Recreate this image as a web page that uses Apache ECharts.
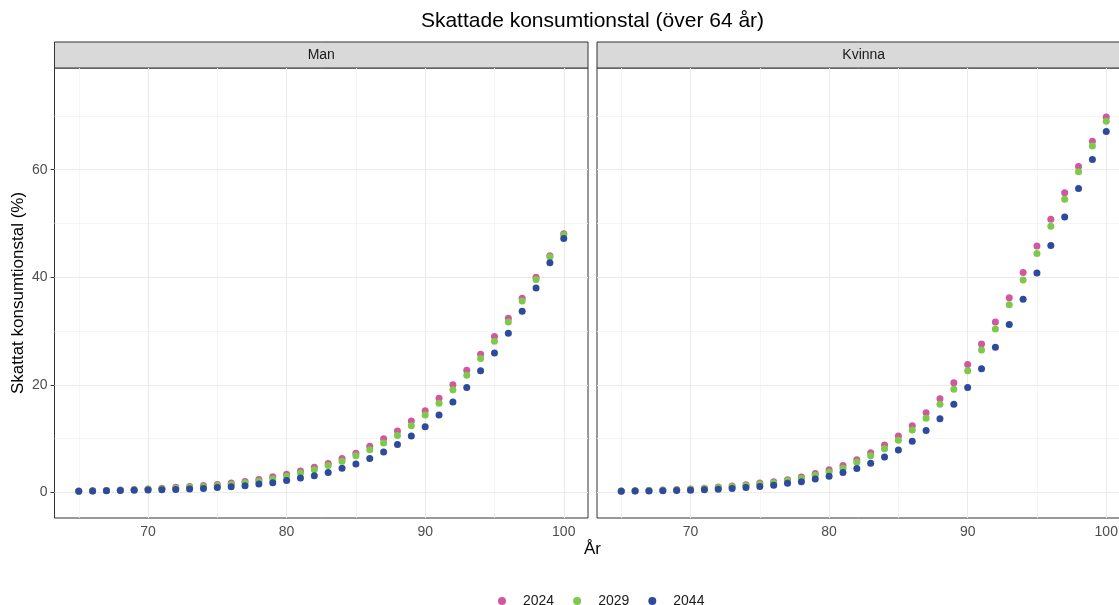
<!DOCTYPE html>
<html>
<head>
<meta charset="utf-8">
<script src="https://cdn.jsdelivr.net/npm/echarts@6/dist/echarts.min.js"></script>
<style>
html, body { margin: 0; padding: 0; background: #fff; }
#chart { width: 1119px; height: 605px; }
</style>
</head>
<body>
<div id="chart"></div>
<script>
// ålder 65..100
var ages = [65,66,67,68,69,70,71,72,73,74,75,76,77,78,79,80,81,82,83,84,85,86,87,88,89,90,91,92,93,94,95,96,97,98,99,100];
var years = ['2024', '2029', '2044'];
var facets = ['Man', 'Kvinna'];

var man2024 = [0.25,0.30,0.38,0.45,0.55,0.65,0.8,0.95,1.1,1.3,1.5,1.75,2.05,2.4,2.9,3.4,4.0,4.7,5.4,6.3,7.3,8.6,10.0,11.4,13.3,15.2,17.5,20.0,22.7,25.7,29.0,32.4,36.1,40.0,44.0,48.1];
var man2029 = [0.23,0.28,0.35,0.42,0.5,0.6,0.7,0.8,0.95,1.1,1.3,1.5,1.8,2.1,2.5,3.0,3.6,4.2,5.0,5.8,6.8,7.95,9.2,10.6,12.4,14.4,16.6,19.1,21.8,24.9,28.1,31.7,35.6,39.6,43.8,47.9];
var man2044 = [0.2,0.25,0.3,0.35,0.4,0.45,0.5,0.55,0.62,0.75,0.93,1.05,1.25,1.55,1.8,2.2,2.7,3.1,3.7,4.5,5.3,6.3,7.5,8.9,10.5,12.2,14.4,16.8,19.5,22.6,25.9,29.6,33.7,38.0,42.7,47.2];

var kvinna2024 = [0.27,0.32,0.38,0.45,0.55,0.65,0.8,1.0,1.2,1.45,1.75,2.0,2.35,2.85,3.5,4.2,5.0,6.1,7.4,8.8,10.5,12.4,14.8,17.4,20.4,23.8,27.6,31.7,36.2,40.9,45.8,50.8,55.7,60.6,65.3,69.8];
var kvinna2029 = [0.25,0.3,0.35,0.42,0.5,0.6,0.72,0.9,1.05,1.3,1.55,1.8,2.2,2.6,3.2,3.8,4.5,5.6,6.8,8.1,9.7,11.6,13.8,16.4,19.2,22.6,26.5,30.4,34.9,39.5,44.4,49.5,54.5,59.6,64.4,69.0];
var kvinna2044 = [0.22,0.25,0.28,0.33,0.38,0.42,0.5,0.6,0.75,0.9,1.1,1.35,1.7,2.0,2.5,3.0,3.7,4.45,5.45,6.6,7.9,9.5,11.5,13.7,16.4,19.5,23.0,27.0,31.2,35.9,40.8,45.9,51.2,56.5,61.9,67.1];

var xTicks = [70, 80, 90, 100];
var xMinor = [65, 75, 85, 95];
var yTicks = [0, 20, 40, 60];
var yMinor = [10, 30, 50, 70];

var colors = ['#CF589F', '#7DC94A', '#2E4A9D'];

function pairs(values) {
    var out = [];
    for (var i = 0; i < ages.length; i++) {
        out.push([ages[i], values[i]]);
    }
    return out;
}

function gridLines(idx) {
    var d = [];
    var major = {color: '#EBEBEB', width: 1.1, type: 'solid'};
    var minor = {color: '#F3F3F3', width: 0.8, type: 'solid'};
    xMinor.forEach(function (v) { d.push({xAxis: v, lineStyle: minor}); });
    yMinor.forEach(function (v) { d.push({yAxis: v, lineStyle: minor}); });
    xTicks.forEach(function (v) { d.push({xAxis: v, lineStyle: major}); });
    yTicks.forEach(function (v) { d.push({yAxis: v, lineStyle: major}); });
    return {
        type: 'scatter',
        data: [],
        xAxisIndex: idx,
        yAxisIndex: idx,
        silent: true,
        z: 1,
        markLine: {
            silent: true,
            z: 1,
            symbol: ['none', 'none'],
            label: {show: false},
            emphasis: {disabled: true},
            animation: false,
            data: d
        }
    };
}

function points(name, values, idx, color) {
    return {
        name: name,
        type: 'scatter',
        data: pairs(values),
        xAxisIndex: idx,
        yAxisIndex: idx,
        symbolSize: 7,
        itemStyle: {color: color, opacity: 1},
        z: 3
    };
}

function xAxis(idx) {
    return {
        type: 'value',
        gridIndex: idx,
        min: 63.25,
        max: 101.75,
        axisLine: {show: false},
        axisTick: {show: true, customValues: xTicks, length: 4, lineStyle: {color: '#333', width: 1}},
        axisLabel: {customValues: xTicks, margin: 7, color: '#4D4D4D', fontSize: 14, fontFamily: 'Liberation Sans'},
        splitLine: {show: false}
    };
}

function yAxis(idx, labels) {
    return {
        type: 'value',
        gridIndex: idx,
        min: -4.75,
        max: 78.9,
        axisLine: {show: false},
        axisTick: {show: labels, customValues: yTicks, length: 4, lineStyle: {color: '#333', width: 1}},
        axisLabel: {show: labels, customValues: yTicks, margin: 7, color: '#4D4D4D', fontSize: 14, fontFamily: 'Liberation Sans'},
        splitLine: {show: false}
    };
}

function strip(x, label) {
    return {
        type: 'group',
        children: [
            {type: 'rect', shape: {x: x, y: 42, width: 533.5, height: 26},
             style: {fill: '#D9D9D9', stroke: '#333', lineWidth: 1}},
            {type: 'text', x: x + 266.75, y: 55,
             style: {text: label, fill: '#1A1A1A', font: '14px "Liberation Sans"', align: 'center', verticalAlign: 'middle'}}
        ]
    };
}

var chart = echarts.init(document.getElementById('chart'), null, {renderer: 'canvas'});

var option = {
    animation: false,
    backgroundColor: '#fff',
    grid: [
        {left: 54.5, top: 68, width: 533.5, height: 450, outerBoundsMode: 'none', containLabel: false,
         show: true, backgroundColor: '#fff', borderColor: '#333', borderWidth: 1},
        {left: 597, top: 68, width: 533.5, height: 450, outerBoundsMode: 'none', containLabel: false,
         show: true, backgroundColor: '#fff', borderColor: '#333', borderWidth: 1}
    ],
    xAxis: [xAxis(0), xAxis(1)],
    yAxis: [yAxis(0, true), yAxis(1, false)],
    legend: {
        data: years,
        left: 493,
        top: 589,
        icon: 'circle',
        itemWidth: 8,
        itemHeight: 8,
        itemGap: 19,
        textStyle: {color: '#1A1A1A', fontSize: 14, fontFamily: 'Liberation Sans', padding: [0, 0, 0, 12]}
    },
    graphic: [
        {type: 'text', x: 592.5, y: 21,
         style: {text: 'Skattade konsumtionstal (över 64 år)', fill: '#000', font: '21px "Liberation Sans"', align: 'center', verticalAlign: 'middle'}},
        {type: 'text', x: 18.5, y: 293, rotation: Math.PI / 2,
         style: {text: 'Skattat konsumtionstal (%)', fill: '#000', font: '17px "Liberation Sans"', align: 'center', verticalAlign: 'middle'}},
        {type: 'text', x: 592.5, y: 549,
         style: {text: 'År', fill: '#000', font: '17px "Liberation Sans"', align: 'center', verticalAlign: 'middle'}},
        strip(54.5, facets[0]),
        strip(597, facets[1])
    ],
    series: [
        gridLines(0),
        gridLines(1),
        points(years[0], man2024, 0, colors[0]),
        points(years[1], man2029, 0, colors[1]),
        points(years[2], man2044, 0, colors[2]),
        points(years[0], kvinna2024, 1, colors[0]),
        points(years[1], kvinna2029, 1, colors[1]),
        points(years[2], kvinna2044, 1, colors[2])
    ]
};

chart.setOption(option);
</script>
</body>
</html>
